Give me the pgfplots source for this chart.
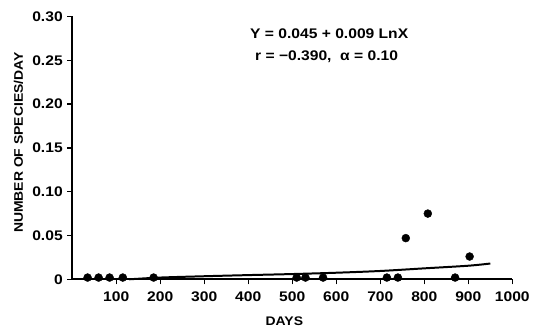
\documentclass[border=0pt]{standalone}
\usepackage{pgfplots}
\pgfplotsset{compat=1.18}
\usepackage{fontspec}
\setmainfont{Liberation Sans}[FakeStretch=1.12]
\begin{document}
\begin{tikzpicture}
\begin{axis}[
  scale only axis,
  width=442pt, height=264pt,
  xmin=0, xmax=1000, ymin=0, ymax=0.30,
  axis lines=left,
  axis line style={-, line width=2pt},
  tick align=outside,
  major tick length=5pt,
  every major tick/.append style={draw=black, line width=1.4pt},
  xtick={100,200,300,400,500,600,700,800,900,1000},
  xticklabels={100,200,300,400,500,600,700,800,900,1000},
  ytick={0,0.05,0.10,0.15,0.20,0.25,0.30},
  yticklabels={0,0.05,0.10,0.15,0.20,0.25,0.30},
  tick label style={font=\fontsize{14}{16}\selectfont\bfseries},
  xticklabel style={yshift=-4pt},
  yticklabel style={xshift=-1pt},
  xlabel={DAYS},
  ylabel={NUMBER OF SPECIES/DAY},
  label style={font=\fontsize{12.5}{14}\selectfont\bfseries},
  xlabel style={at={(axis description cs:0.482,-0.158)}, anchor=center},
  ylabel style={at={(axis description cs:-0.122,0.52)}, anchor=center, rotate=0},
  clip=false,
]
\addplot[only marks, mark=*, mark size=4pt, black] coordinates {
 (35,0.002) (60,0.002) (85,0.002) (115,0.002) (185,0.002)
 (510,0.002) (530,0.002) (570,0.002) (715,0.002) (740,0.002) (870,0.002)
 (758,0.047) (808,0.075) (903,0.026)
};
\addplot[black, line width=2pt, smooth] coordinates {
 (130,0.000) (200,0.002) (300,0.0035) (400,0.0048) (500,0.006) (600,0.0075) (700,0.0095) (800,0.0125) (900,0.0155) (950,0.018)
};
\pgfplotsinvokeforeach{100,200,300,400,500,600,700,800,900,1000}{
  \draw[line width=1.3pt] (axis cs:#1,0) -- ++(0,-5pt);
}
\pgfplotsinvokeforeach{0,0.05,0.10,0.15,0.20,0.25,0.30}{
  \draw[line width=1.3pt] (axis cs:0,#1) -- ++(-5pt,0);
}
\node[font=\fontsize{14}{16}\selectfont\bfseries] at (axis cs:584,0.280) {Y = 0.045 + 0.009 LnX};
\node[font=\fontsize{14}{16}\selectfont\bfseries] at (axis cs:578,0.2545) {r = −0.390,\ \ α = 0.10};
\path (rel axis cs:0,0) ++(-72pt,-49pt) node[inner sep=0pt]{};
\path (rel axis cs:0,1) ++(0pt,16pt) node[inner sep=0pt]{};
\end{axis}
\end{tikzpicture}
\end{document}
